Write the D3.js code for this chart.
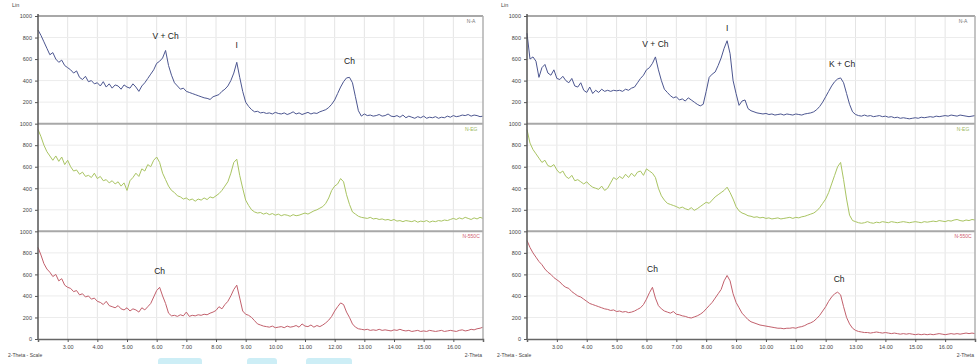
<!DOCTYPE html>
<html>
<head>
<meta charset="utf-8">
<script src="https://cdn.jsdelivr.net/npm/d3@7"></script>
<style>
  body { margin: 0; background: #fff; }
  svg { display: block; font-family: Arial, "Liberation Sans", sans-serif; }
</style>
</head>
<body>
<svg id="chart" width="977" height="364"></svg>
<script>
// 2-Theta sampling of every pattern: 2.0 .. 17.0 step 0.1
const thetaStart = 2.0;
const thetaStep = 0.1;

const xTicks = [3, 4, 5, 6, 7, 8, 9, 10, 11, 12, 13, 14, 15, 16];
const yTicks = [0, 200, 400, 600, 800, 1000];
const rowLabels = ['N-A', 'N-EG', 'N-550C'];

// left sample
const leftAir = [
  870, 820, 760, 700, 640, 660, 600, 570, 590, 540, 520, 500, 470, 490, 430, 410, 440, 390, 400, 370,
  380, 350, 390, 340, 370, 330, 360, 350, 320, 360, 340, 330, 370, 340, 300, 350, 380, 420, 460, 500,
  560, 580, 610, 680, 540, 450, 380, 350, 320, 330, 300, 290, 280, 270, 260, 250, 240, 235, 225, 250,
  260, 270, 300, 320, 350, 400, 470, 570, 430, 300, 200, 160, 130, 110, 115, 100, 105, 95, 100, 90,
  105, 95, 90, 100, 85, 95, 110, 90, 100, 85, 95, 105, 90, 100, 95, 110, 120, 130, 150, 180,
  220, 280, 340, 390, 425, 430, 380, 250, 120, 70, 90, 75, 80, 70, 75, 85, 70, 75, 90, 70,
  65, 75, 60, 80, 55, 70, 60, 50, 65, 55, 70, 50, 60, 55, 65, 50, 60, 55, 70, 60,
  75, 65, 70, 80, 75, 85, 70, 80, 75, 65, 70
];
const leftGlycol = [
  945, 880, 800, 740, 700, 660, 700, 650, 690, 620, 660, 600, 560, 570, 530, 550, 510, 520, 500, 540,
  490, 510, 470, 480, 450, 470, 440, 460, 420, 450, 380, 470, 500, 540, 510, 580, 560, 620, 600, 660,
  690, 640, 540, 480, 420, 380, 360, 330, 320, 300, 310, 290, 300, 280, 300, 290, 310, 295, 320, 310,
  330, 350, 380, 420, 460, 540, 640, 670, 520, 400, 290, 240, 200, 180, 170, 175, 160, 170, 155, 165,
  150, 160, 145, 155, 150, 140, 155, 145, 150, 160, 170, 160, 175, 190, 200, 215, 230, 260, 310, 380,
  420, 440, 490, 460, 340, 250, 180, 160, 140, 130, 125, 120, 130, 115, 120, 110, 115, 105, 110, 100,
  110, 95, 100, 90, 100, 95, 90, 100, 85, 95, 90, 100, 85, 95, 90, 100, 95, 105, 100, 110,
  120, 110, 125, 115, 130, 120, 110, 125, 115, 130, 120
];
const leftHeated = [
  850, 780, 700, 650, 620, 580, 600, 540, 560, 500, 480, 470, 440, 450, 410, 420, 390, 400, 370, 380,
  350, 340, 320, 350, 310, 300, 290, 310, 280, 270, 290, 260, 280, 270, 250, 290, 270, 300, 330, 390,
  450, 480, 400, 330, 240, 215, 220, 210, 225, 215, 250, 210, 220, 215, 225, 220, 230, 225, 240, 250,
  265, 300, 280, 320, 350, 400, 460, 500, 380, 260, 230, 220, 200, 170, 140, 130, 120, 115, 110, 120,
  105, 110, 115, 105, 120, 110, 115, 125, 110, 140, 120, 115, 130, 110, 125, 115, 130, 150, 175, 210,
  260, 300, 335, 320, 250, 200, 140, 110, 95, 90, 85, 90, 80, 85, 80, 90, 80, 85, 80, 75,
  85, 80, 90, 80, 75, 80, 70, 75, 80, 70, 75, 70, 80, 75, 70, 75, 80, 70, 75, 80,
  75, 70, 80, 85, 75, 80, 90, 85, 95, 100, 110
];

// right sample
const rightAir = [
  840, 600, 620, 580, 430, 520, 550, 470, 450, 500, 420, 410, 440, 400, 380, 420, 350, 340, 380, 310,
  290, 340, 280, 310, 290, 320, 300, 310, 300, 310, 305, 310, 300, 320, 310, 330, 340, 380, 420, 450,
  500, 520, 560, 620, 500, 400, 320, 290, 260, 240, 250, 220, 230, 210, 240, 220, 200, 180, 165, 180,
  300, 430, 460, 480, 540, 610, 700, 770, 650, 400, 280, 170, 210, 220, 140, 120, 110, 100, 95, 90,
  95, 85, 90, 80, 85, 90, 80, 90, 85, 80, 90, 85, 80, 90, 95, 100, 110, 130, 160, 200,
  250, 300, 350, 390, 415, 425, 380, 280, 180, 110, 85, 75, 70, 80, 70, 75, 65, 70, 75, 65,
  70, 60, 65, 55, 60, 50, 55, 50, 45, 50, 55, 50, 60, 55, 60, 65, 60, 70, 65, 70,
  75, 70, 80, 75, 70, 80, 75, 70, 65, 70, 75
];
const rightGlycol = [
  945, 820, 760, 720, 680, 640, 660, 610, 600, 620, 570, 540, 560, 510, 490, 520, 470, 480, 460, 440,
  460, 430, 410, 400, 390, 420, 380, 400, 450, 500, 480, 510, 490, 530, 500, 540, 510, 550, 560, 520,
  580, 560, 540, 500, 400, 330, 290, 260, 250, 240, 230, 215, 225, 210, 200, 220, 195, 210, 230, 250,
  270, 260, 290, 320, 340, 360, 380, 410, 360, 300, 230, 190, 170, 160, 145, 140, 130, 135, 125, 130,
  120, 125, 115, 120, 125, 115, 120, 125, 130, 120, 130, 125, 135, 140, 150, 160, 170, 190, 220, 260,
  300, 360, 440, 520, 600, 640, 480, 300, 150, 100, 90, 80, 75, 80, 90, 80, 75, 85, 80, 90,
  85, 80, 90, 85, 80, 85, 90, 85, 80, 85, 90, 85, 80, 90, 85, 90, 95, 90, 100, 95,
  90, 100, 95, 105, 110, 100, 95, 105, 100, 110, 105
];
const rightHeated = [
  915, 850, 800, 760, 720, 690, 650, 620, 600, 570, 550, 530, 500, 480, 470, 440, 420, 400, 390, 370,
  350, 330, 320, 310, 300, 290, 280, 275, 265, 270, 255, 260, 250, 255, 245, 250, 260, 275, 290, 320,
  370, 430, 480, 380, 310, 280, 260, 250, 240, 255, 230, 225, 215, 210, 200, 195, 205, 215, 230, 250,
  280, 310, 340, 380, 420, 460, 540, 590, 540, 420, 340, 290, 240, 210, 180, 160, 150, 140, 130, 125,
  120, 115, 110, 105, 100, 100, 95, 100, 100, 105, 100, 110, 115, 125, 140, 150, 165, 190, 220, 260,
  300, 350, 390, 420, 435, 410, 300, 200, 140, 100, 80, 70, 65, 60, 60, 55, 60, 65, 60, 55,
  60, 55, 50, 55, 50, 45, 50, 45, 50, 45, 40, 45, 40, 45, 40, 45, 40, 45, 50, 45,
  40, 45, 50, 45, 50, 45, 50, 55, 50, 55, 50
];

// peak labels: panel, row, 2-theta, intensity where the label sits
const peakLabels = [
  { panel: 0, row: 0, theta: 6.3, at: 790, text: 'V + Ch' },
  { panel: 0, row: 0, theta: 8.7, at: 700, text: 'I' },
  { panel: 0, row: 0, theta: 12.5, at: 555, text: 'Ch' },
  { panel: 0, row: 2, theta: 6.1, at: 600, text: 'Ch' },
  { panel: 1, row: 0, theta: 6.3, at: 715, text: 'V + Ch' },
  { panel: 1, row: 0, theta: 8.7, at: 860, text: 'I' },
  { panel: 1, row: 0, theta: 12.55, at: 530, text: 'K + Ch' },
  { panel: 1, row: 2, theta: 6.2, at: 620, text: 'Ch' },
  { panel: 1, row: 2, theta: 12.45, at: 530, text: 'Ch' }
];

const rowColors = ['#4c5690', '#a9c462', '#c2606c'];
const labelColors = ['#777', '#9bb860', '#d06070'];

const panels = [
  { x0: 38, x1: 483, rows: [leftAir, leftGlycol, leftHeated] },
  { x0: 527, x1: 975, rows: [rightAir, rightGlycol, rightHeated] }
];

const plotTop = 16;
const plotBottom = 339;
const rowH = (plotBottom - plotTop) / 3;

const svg = d3.select('#chart');

// faint cyan strip cut off at the bottom edge
const strip = svg.append('g').attr('fill', '#cdeef6');
[[158, 44], [247, 30], [306, 46]].forEach(([sx, w]) => {
  strip.append('rect').attr('x', sx).attr('y', 358).attr('width', w).attr('height', 8).attr('rx', 3);
});

panels.forEach((p, pi) => {
  const g = svg.append('g');
  const x = d3.scaleLinear().domain([2, 17]).range([p.x0, p.x1]);

  // vertical grid
  g.append('g')
    .selectAll('line')
    .data(xTicks)
    .join('line')
    .attr('x1', d => x(d)).attr('x2', d => x(d))
    .attr('y1', plotTop).attr('y2', plotBottom)
    .attr('stroke', '#e4e4e4')
    .attr('stroke-width', 1);

  p.rows.forEach((vals, r) => {
    const y = d3.scaleLinear().domain([0, 1000]).range([plotTop + (r + 1) * rowH, plotTop + r * rowH]);

    // horizontal grid
    g.append('g')
      .selectAll('line')
      .data([200, 400, 600, 800])
      .join('line')
      .attr('x1', p.x0).attr('x2', p.x1)
      .attr('y1', d => y(d)).attr('y2', d => y(d))
      .attr('stroke', '#ececec');

    // row frame (top border)
    g.append('line')
      .attr('x1', p.x0).attr('x2', p.x1)
      .attr('y1', y(1000)).attr('y2', y(1000))
      .attr('stroke', '#a8a8a8')
      .attr('stroke-width', 2);

    // y axis
    const ticks = r === 2 ? yTicks : yTicks.slice(1);
    g.append('g')
      .attr('transform', `translate(${p.x0},0)`)
      .call(d3.axisLeft(y).tickValues(ticks).tickSize(3).tickPadding(3).tickFormat(d3.format('d')))
      .call(a => a.select('.domain').remove())
      .call(a => a.selectAll('line').attr('stroke', '#555'))
      .call(a => a.selectAll('text').attr('fill', '#444').style('font-size', '5.5px'));

    // pattern
    const line = d3.line()
      .x((d, i) => x(thetaStart + i * thetaStep))
      .y(d => y(d));
    g.append('path')
      .datum(vals)
      .attr('fill', 'none')
      .attr('stroke', rowColors[r])
      .attr('stroke-width', 1)
      .attr('stroke-linejoin', 'round')
      .attr('d', line);

    // sample label top-right
    g.append('text')
      .attr('x', x(16.6))
      .attr('y', y(1000) + 7)
      .attr('text-anchor', 'middle')
      .attr('fill', labelColors[r])
      .style('font-size', '5px')
      .text(rowLabels[r]);

    // peak names
    peakLabels.filter(l => l.panel === pi && l.row === r).forEach(l => {
      g.append('text')
        .attr('x', x(l.theta))
        .attr('y', y(l.at))
        .attr('text-anchor', 'middle')
        .attr('fill', '#222')
        .style('font-size', '8.5px')
        .text(l.text);
    });
  });

  // right border
  g.append('line')
    .attr('x1', p.x1).attr('x2', p.x1)
    .attr('y1', plotTop).attr('y2', plotBottom)
    .attr('stroke', '#b0b0b0')
    .attr('stroke-width', 1.5);

  // left axis line
  g.append('line')
    .attr('x1', p.x0).attr('x2', p.x0)
    .attr('y1', plotTop - 2).attr('y2', plotBottom)
    .attr('stroke', '#555')
    .attr('stroke-width', 1.5);

  // x axis
  g.append('g')
    .attr('transform', `translate(0,${plotBottom})`)
    .call(d3.axisBottom(x).tickValues(xTicks).tickSize(3).tickPadding(3).tickFormat(d3.format('.2f')))
    .call(a => a.select('.domain').attr('stroke', '#666').attr('stroke-width', 1.5))
    .call(a => a.selectAll('line').attr('stroke', '#555'))
    .call(a => a.selectAll('text').attr('fill', '#444').style('font-size', '5.5px'));

  // axis captions
  g.append('text')
    .attr('x', p.x0 - 26).attr('y', 7)
    .attr('fill', '#444').style('font-size', '5.5px')
    .text('Lin');
  g.append('text')
    .attr('x', p.x0 - 30).attr('y', 357)
    .attr('fill', '#444').style('font-size', '5px')
    .text('2-Theta - Scale');
  g.append('text')
    .attr('x', p.x1 - 1).attr('y', 357)
    .attr('text-anchor', 'end')
    .attr('fill', '#444').style('font-size', '5px')
    .text('2-Theta');
});
</script>
</body>
</html>
